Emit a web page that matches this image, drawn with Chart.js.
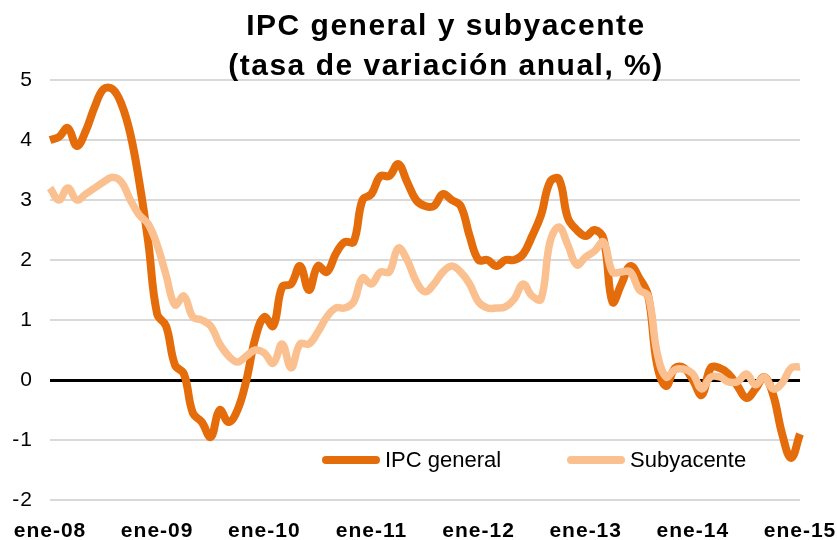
<!DOCTYPE html>
<html>
<head>
<meta charset="utf-8">
<script src="https://cdn.jsdelivr.net/npm/chart.js@4"></script>
<style>
  body { margin: 0; background: #fff; }
  #wrap { position: relative; width: 837px; height: 540px; }
  #titulo {
    position: absolute; top: 5px; left: 446px; transform: translateX(-50%);
    font: bold 30px "Liberation Sans", Arial, sans-serif; line-height: 40px;
    letter-spacing: 1.5px; text-align: center; white-space: nowrap; color: #000;
  }
  #leyenda { position: absolute; top: 447px; left: 322px; height: 26px; }
  .item { position: absolute; top: 0; height: 26px; display: flex; align-items: center;
    font: 22px "Liberation Sans", Arial, sans-serif; color: #000; white-space: nowrap; }
  .item span.linea { display: inline-block; width: 58px; height: 8px; border-radius: 4px; margin-right: 5px; }
</style>
</head>
<body>
<div id="wrap">
  <canvas id="myChart" width="837" height="540"></canvas>
  <div id="titulo">IPC general y subyacente<br>(tasa de variación anual, %)</div>
  <div id="leyenda"></div>
</div>
<script>
// meses y años de las etiquetas del eje x (ene-08 ... ene-15)
const meses = ['ene', 'feb', 'mar', 'abr', 'may', 'jun', 'jul', 'ago', 'sep', 'oct', 'nov', 'dic'];
const anios = ['08', '09', '10', '11', '12', '13', '14', '15'];

// IPC general, tasa anual (%), mensual desde ene-08
const ipcGeneral = [
  4.0, 4.05, 4.2, 3.9, 4.15, 4.55, 4.85, 4.85, 4.6, 4.1, 3.3, 2.3,
  1.1, 0.9, 0.25, 0.1, -0.55, -0.7, -0.95, -0.5, -0.7, -0.5, 0.0, 0.7,
  1.05, 0.9, 1.55, 1.6, 1.9, 1.5, 1.9, 1.8, 2.1, 2.3, 2.3, 3.0,
  3.1, 3.4, 3.4, 3.6, 3.3, 3.0, 2.9, 2.9, 3.1, 3.0, 2.9, 2.4,
  2.0, 2.0, 1.9, 2.0, 2.0, 2.1, 2.4, 2.75, 3.3, 3.35, 2.7, 2.5,
  2.4, 2.5, 2.35, 1.3, 1.6, 1.9, 1.7, 1.4, 0.25, -0.1, 0.2, 0.2,
  0.0, -0.25, 0.2, 0.2, 0.1, -0.1, -0.3, -0.15, 0.05, -0.25, -0.9, -1.3,
  -0.9
];

// Inflación subyacente, tasa anual (%)
const subyacente = [
  3.2, 3.0, 3.2, 3.0, 3.1, 3.2, 3.3, 3.38, 3.3, 3.0, 2.75, 2.6,
  2.25, 1.75, 1.25, 1.4, 1.05, 1.0, 0.9, 0.6, 0.4, 0.3, 0.4, 0.5,
  0.45, 0.28, 0.6, 0.2, 0.6, 0.6, 0.8, 1.05, 1.2, 1.2, 1.3, 1.7,
  1.6, 1.8, 1.8, 2.2, 2.0, 1.65, 1.47, 1.6, 1.8, 1.9, 1.8, 1.6,
  1.3, 1.2, 1.2, 1.22, 1.35, 1.6, 1.4, 1.35, 2.3, 2.55, 2.25, 1.92,
  2.05, 2.15, 2.3, 1.8, 1.8, 1.8, 1.5, 1.4, 0.45, 0.05, 0.17, 0.18,
  0.1, -0.15, 0.05, 0.05, -0.03, -0.03, 0.1, -0.08, 0.05, -0.15, -0.05, 0.2,
  0.22
];

// etiquetas mensuales
const etiquetas = [];
anios.forEach(function (a, i) {
  meses.forEach(function (m, j) {
    if (i < anios.length - 1 || j === 0) etiquetas.push(m + '-' + a);
  });
});

// espaciado de letras para el texto de los ejes
const espaciado = {
  id: 'espaciado',
  beforeDraw(chart) { chart.ctx.letterSpacing = '1px'; },
  beforeDatasetsDraw(chart) { chart.ctx.letterSpacing = '0px'; }
};

const ctx = document.getElementById('myChart').getContext('2d');
const myChart = new Chart(ctx, {
  type: 'line',
  data: {
    labels: etiquetas,
    datasets: [{
      label: 'IPC general',
      data: ipcGeneral,
      borderColor: '#E46C0A',
      borderWidth: 8,
      pointRadius: 0,
      tension: 0.4,
      fill: false,
      order: 1
    }, {
      label: 'Subyacente',
      data: subyacente,
      borderColor: '#FAC090',
      borderWidth: 7.5,
      pointRadius: 0,
      tension: 0.4,
      fill: false,
      order: 0
    }]
  },
  options: {
    responsive: false,
    animation: false,
    layout: { padding: { top: 80, right: 37, left: 0, bottom: 0 } },
    plugins: {
      legend: { display: false },
      title: { display: false },
      tooltip: { enabled: false }
    },
    scales: {
      x: {
        grid: { display: false, drawTicks: false },
        border: { display: false },
        ticks: {
          autoSkip: false,
          maxRotation: 0,
          padding: 19,
          color: '#000',
          font: { family: 'Liberation Sans', size: 21, weight: 'bold' },
          callback: function (val, i) {
            return i % 12 === 0 ? etiquetas[i] : '';
          }
        },
        afterFit: function (scale) {
          scale.height = 40;
          scale.paddingLeft = 0;
          scale.paddingRight = 0;
        }
      },
      y: {
        min: -2,
        max: 5,
        grid: {
          drawTicks: false,
          color: function (c) { return c.tick && c.tick.value === 0 ? '#000' : '#D9D9D9'; },
          lineWidth: function (c) { return c.tick && c.tick.value === 0 ? 3 : 2; }
        },
        border: { display: false },
        ticks: {
          stepSize: 1,
          padding: 17,
          color: '#000',
          font: { family: 'Liberation Sans', size: 21 }
        },
        afterFit: function (scale) { scale.width = 50; }
      }
    }
  },
  plugins: [espaciado]
});

// leyenda dentro del área del gráfico
const leyenda = document.getElementById('leyenda');
const posiciones = [0, 245];
myChart.data.datasets.forEach(function (ds, i) {
  const item = document.createElement('div');
  item.className = 'item';
  item.style.left = posiciones[i] + 'px';
  item.innerHTML = '<span class="linea" style="background:' + ds.borderColor + '"></span>' + ds.label;
  leyenda.appendChild(item);
});
</script>
</body>
</html>
